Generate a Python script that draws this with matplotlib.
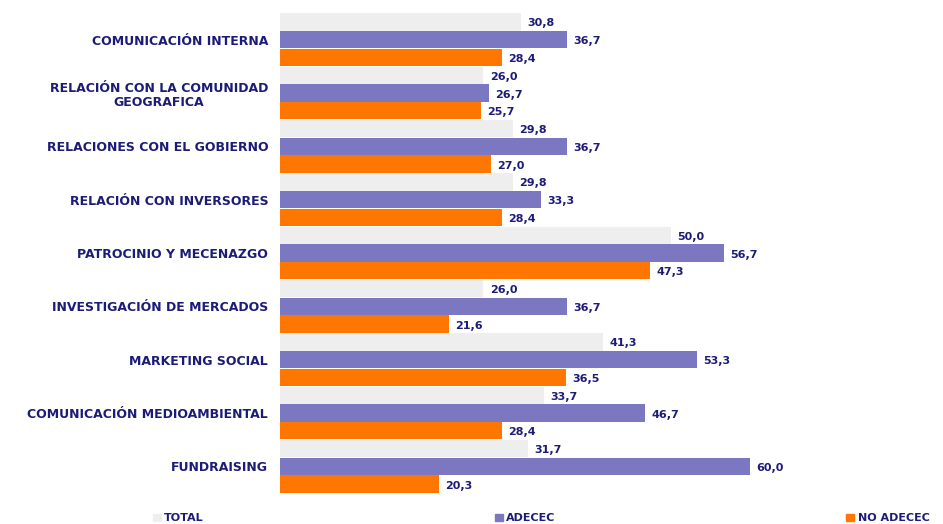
import numpy as np
import matplotlib
matplotlib.use("Agg")
import matplotlib.pyplot as plt
from matplotlib.patches import Patch

categorias = ["COMUNICACIÓN INTERNA",
              "RELACIÓN CON LA COMUNIDAD\nGEOGRAFICA",
              "RELACIONES CON EL GOBIERNO",
              "RELACIÓN CON INVERSORES",
              "PATROCINIO Y MECENAZGO",
              "INVESTIGACIÓN DE MERCADOS",
              "MARKETING SOCIAL",
              "COMUNICACIÓN MEDIOAMBIENTAL",
              "FUNDRAISING"]
total = [30.8, 26.0, 29.8, 29.8, 50.0, 26.0, 41.3, 33.7, 31.7]
adecec = [36.7, 26.7, 36.7, 33.3, 56.7, 36.7, 53.3, 46.7, 60.0]
no_adecec = [28.4, 25.7, 27.0, 28.4, 47.3, 21.6, 36.5, 28.4, 20.3]

series = [("TOTAL", total, "#eeeeee"),
          ("ADECEC", adecec, "#7b77c0"),
          ("NO ADECEC", no_adecec, "#ff7700")]

navy = "#1c1c78"
fig = plt.figure(figsize=(9.43, 5.24), dpi=100)
ax = fig.add_axes([280/943, 31/524, 626/943, 480/524])

y = np.arange(len(categorias))
h = 1/3
for i, (nombre, vals, color) in enumerate(series):
    pos = y + (i - 1) * h
    ax.barh(pos, vals, height=0.325, color=color, label=nombre)
    for p, v in zip(pos, vals):
        ax.text(v + 0.8, p + 0.03, f"{v:.1f}".replace(".", ","), va="center", ha="left",
                fontsize=8, fontweight="bold", color=navy)

ax.set_xlim(0, 80)
ax.set_ylim(len(categorias) - 0.5, -0.5)
ax.set_xticks([])
ax.set_yticks(y)
ax.set_yticklabels(categorias, fontsize=9, fontweight="bold", color=navy, multialignment="center")
ax.tick_params(axis="y", length=0, pad=8.5)
for s in ax.spines.values():
    s.set_visible(False)

handles = [Patch(color=c, label=n) for n, _, c in series]
fig.legend(handles=handles, ncol=3, loc="lower left", bbox_to_anchor=(143/943, -0.018),
           frameon=False, prop={"weight": "bold", "size": 8},
           handlelength=0.7, handleheight=0.7, handletextpad=0.3, columnspacing=26.2,
           labelcolor=navy)

fig.savefig("out.png", dpi=100)
